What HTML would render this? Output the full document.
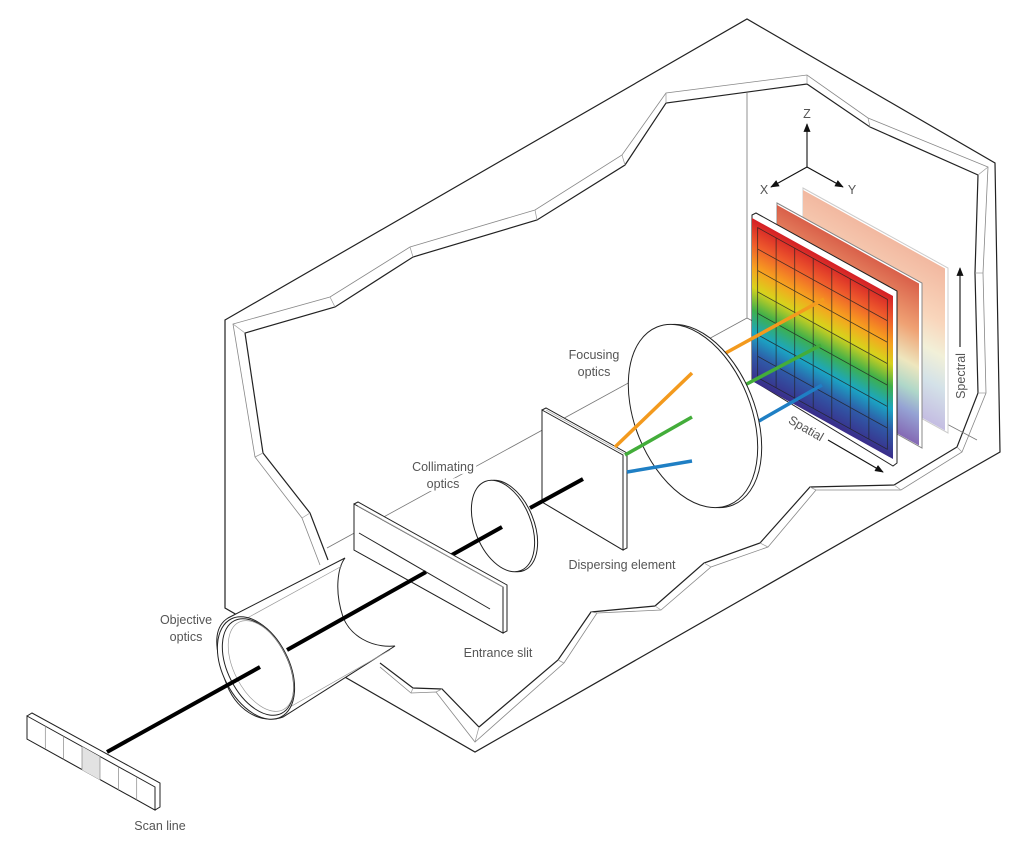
<!DOCTYPE html>
<html><head><meta charset="utf-8"><style>
html,body{margin:0;padding:0;background:#fff;}
svg{display:block;}
text{font-family:"Liberation Sans",sans-serif;font-size:12.5px;fill:#555;}
.lbl{stroke:#fff;stroke-width:6px;paint-order:stroke;stroke-linejoin:round;}
</style></head><body>
<svg width="1024" height="853" viewBox="0 0 1024 853" xmlns="http://www.w3.org/2000/svg">
<defs>
<linearGradient id="g1" x1="0" y1="0" x2="0" y2="1">
<stop offset="0" stop-color="#d41f26"/><stop offset="0.15" stop-color="#ee5a2c"/><stop offset="0.3" stop-color="#f7a21f"/>
<stop offset="0.42" stop-color="#d8d21c"/><stop offset="0.56" stop-color="#3fb04a"/><stop offset="0.7" stop-color="#1aa6c4"/>
<stop offset="0.83" stop-color="#2f5ba8"/><stop offset="1" stop-color="#3a2d8a"/></linearGradient>
<linearGradient id="g2" x1="0" y1="0" x2="0" y2="1">
<stop offset="0" stop-color="#d6523a"/><stop offset="0.3" stop-color="#ee9a68"/><stop offset="0.52" stop-color="#ece4b8"/>
<stop offset="0.68" stop-color="#a8d4c4"/><stop offset="0.82" stop-color="#8c9ad0"/><stop offset="1" stop-color="#7a5cae"/></linearGradient>
<linearGradient id="g3" x1="0" y1="0" x2="0" y2="1">
<stop offset="0" stop-color="#f2b8a0"/><stop offset="0.35" stop-color="#f9d6bc"/><stop offset="0.55" stop-color="#f2f0d8"/>
<stop offset="0.75" stop-color="#d4e2e8"/><stop offset="1" stop-color="#c4bde2"/></linearGradient>
<marker id="ah" viewBox="0 0 10 10" refX="9" refY="5" markerWidth="8" markerHeight="8" orient="auto"><path d="M0,1 L10,5 L0,9 Z" fill="#111"/></marker>
</defs>

<!-- outer housing -->
<path d="M225,320 L747,19 L995,163 L1000,452 L475,752 L225,608 Z" fill="#fff" stroke="#222" stroke-width="1.2"/>
<!-- rim gray -->
<polyline fill="none" stroke="#888" stroke-width="0.8" points="320,565 302,518 255,457 233,324 330,297 410,247 535,210 622,155 666,93 807,75 868,118 988,167 983,273 986,393 962,452 901,490 816,490 768,547 711,567 661,610 597,613 564,663 475,742 436,692 411,693 380,667"/>
<polyline fill="none" stroke="#222" stroke-width="1.2" points="328,560 310,513 263,453 245,333 335,307 413,257 537,220 625,165 666,103 807,84 870,127 978,175 975,273 978,393 957,447 894,485 810,487 760,543 704,563 655,606 591,612 558,660 479,727 442,689 413,688 380,663"/>
<g stroke="#999" stroke-width="0.7">
<line x1="302" y1="518" x2="310" y2="513"/><line x1="255" y1="457" x2="263" y2="453"/><line x1="233" y1="324" x2="245" y2="333"/>
<line x1="330" y1="297" x2="335" y2="307"/><line x1="410" y1="247" x2="413" y2="257"/><line x1="535" y1="210" x2="537" y2="220"/>
<line x1="622" y1="155" x2="625" y2="165"/><line x1="666" y1="93" x2="666" y2="103"/><line x1="807" y1="75" x2="807" y2="84"/>
<line x1="868" y1="118" x2="870" y2="127"/><line x1="988" y1="167" x2="978" y2="175"/><line x1="983" y1="273" x2="975" y2="273"/>
<line x1="986" y1="393" x2="978" y2="393"/><line x1="962" y1="452" x2="957" y2="447"/><line x1="901" y1="490" x2="894" y2="485"/>
<line x1="816" y1="490" x2="810" y2="487"/><line x1="768" y1="547" x2="760" y2="543"/><line x1="711" y1="567" x2="704" y2="563"/>
<line x1="661" y1="610" x2="655" y2="606"/><line x1="597" y1="613" x2="591" y2="612"/><line x1="564" y1="663" x2="558" y2="660"/>
<line x1="475" y1="742" x2="479" y2="727"/><line x1="436" y1="692" x2="442" y2="689"/><line x1="411" y1="693" x2="413" y2="688"/>
</g>
<!-- back corner lines -->
<line x1="747" y1="93" x2="747" y2="318" stroke="#777" stroke-width="0.8"/>
<line x1="747" y1="318" x2="327" y2="548" stroke="#777" stroke-width="0.8"/>
<line x1="747" y1="318" x2="977" y2="440" stroke="#777" stroke-width="0.8"/>

<!-- axes -->
<g stroke="#111" stroke-width="1.1" fill="none">
<line x1="807" y1="167" x2="807" y2="124" marker-end="url(#ah)"/>
<line x1="807" y1="167" x2="771" y2="187" marker-end="url(#ah)"/>
<line x1="807" y1="167" x2="843" y2="187" marker-end="url(#ah)"/>
</g>
<text x="807" y="118" text-anchor="middle">Z</text>
<text x="764" y="194" text-anchor="middle">X</text>
<text x="852" y="194" text-anchor="middle">Y</text>

<!-- panels -->
<path d="M803,188 L948,268 L948,433 L803,353 Z" fill="#fff" stroke="#ccc" stroke-width="1"/>
<g transform="matrix(142,78.5,0,162,803,190)"><rect x="0" y="0" width="1" height="1" fill="url(#g3)"/></g>
<path d="M777,203 L922,283 L922,448 L777,367 Z" fill="#fff" stroke="#888" stroke-width="1"/>
<g transform="matrix(142,78.5,0,162,777,205)"><rect x="0" y="0" width="1" height="1" fill="url(#g2)" opacity="0.92"/></g>
<path d="M752,215 L756,213 L897,291 L897,463 L893,466 L752,380 Z" fill="#fff" stroke="#222" stroke-width="1"/>
<g transform="matrix(141,78,0,163,752,218)">
<rect x="0" y="0" width="1" height="1" fill="url(#g1)"/>
<g stroke="#222" stroke-width="0.8" vector-effect="non-scaling-stroke" fill="none" opacity="0.8">
<rect x="0.04" y="0.04" width="0.92" height="0.92" vector-effect="non-scaling-stroke"/>
<line x1="0.171" y1="0.04" x2="0.171" y2="0.96" vector-effect="non-scaling-stroke"/>
<line x1="0.303" y1="0.04" x2="0.303" y2="0.96" vector-effect="non-scaling-stroke"/>
<line x1="0.434" y1="0.04" x2="0.434" y2="0.96" vector-effect="non-scaling-stroke"/>
<line x1="0.566" y1="0.04" x2="0.566" y2="0.96" vector-effect="non-scaling-stroke"/>
<line x1="0.697" y1="0.04" x2="0.697" y2="0.96" vector-effect="non-scaling-stroke"/>
<line x1="0.829" y1="0.04" x2="0.829" y2="0.96" vector-effect="non-scaling-stroke"/>
<line x1="0.04" y1="0.171" x2="0.96" y2="0.171" vector-effect="non-scaling-stroke"/>
<line x1="0.04" y1="0.303" x2="0.96" y2="0.303" vector-effect="non-scaling-stroke"/>
<line x1="0.04" y1="0.434" x2="0.96" y2="0.434" vector-effect="non-scaling-stroke"/>
<line x1="0.04" y1="0.566" x2="0.96" y2="0.566" vector-effect="non-scaling-stroke"/>
<line x1="0.04" y1="0.697" x2="0.96" y2="0.697" vector-effect="non-scaling-stroke"/>
<line x1="0.04" y1="0.829" x2="0.96" y2="0.829" vector-effect="non-scaling-stroke"/>
</g></g>

<!-- spectral / spatial -->
<line x1="960" y1="347" x2="960" y2="268" stroke="#111" stroke-width="1.1" marker-end="url(#ah)"/>
<text transform="translate(965,376) rotate(-90)" text-anchor="middle">Spectral</text>
<text transform="translate(804,432) rotate(30)" text-anchor="middle">Spatial</text>
<line x1="828" y1="440" x2="883" y2="472" stroke="#111" stroke-width="1.1" marker-end="url(#ah)"/>

<!-- outer rays (over panel) -->
<g stroke-width="3.5" stroke-linecap="butt">
<line x1="722" y1="355" x2="824" y2="299" stroke="#f39a1e"/>
<line x1="743" y1="386" x2="821" y2="345" stroke="#43ad3a"/>
<line x1="759" y1="421" x2="822" y2="385" stroke="#1f7fc4"/>
</g>

<!-- focusing lens -->
<ellipse cx="697" cy="416" rx="58" ry="96" transform="rotate(-22 697 416)" fill="#fff" stroke="#222" stroke-width="1"/>
<ellipse cx="693" cy="416" rx="58" ry="96" transform="rotate(-22 693 416)" fill="#fff" stroke="#222" stroke-width="1"/>

<!-- dispersing element -->
<path d="M542,410 L546,408 L627,453 L627,548 L623,550 L542,502 Z" fill="#fff" stroke="#222" stroke-width="1"/>
<path d="M542,410 L623,455 L623,550 L542,502 Z" fill="#fff" stroke="#222" stroke-width="1"/>
<line x1="546" y1="410" x2="627" y2="455" stroke="#999" stroke-width="0.6"/>

<!-- inner rays -->
<g stroke-width="3.5">
<line x1="615" y1="447" x2="692" y2="373" stroke="#f39a1e"/>
<line x1="625" y1="455" x2="692" y2="417" stroke="#43ad3a"/>
<line x1="627" y1="472" x2="692" y2="461" stroke="#1f7fc4"/>
</g>
<line x1="530" y1="508" x2="583" y2="479" stroke="#000" stroke-width="4"/>

<!-- collimating lens -->
<ellipse cx="506" cy="526" rx="28" ry="48" transform="rotate(-22 506 526)" fill="#fff" stroke="#222" stroke-width="1"/>
<ellipse cx="503" cy="526" rx="28" ry="48" transform="rotate(-22 503 526)" fill="#fff" stroke="#222" stroke-width="1"/>
<line x1="450" y1="556" x2="502" y2="527" stroke="#000" stroke-width="4"/>

<!-- entrance slit -->
<path d="M354,504 L358,502 L507,585 L507,631 L503,633 L354,550 Z" fill="#fff" stroke="#222" stroke-width="1"/>
<path d="M354,504 L503,587 L503,633 L354,550 Z" fill="#fff" stroke="#222" stroke-width="1"/>
<line x1="358" y1="506" x2="503" y2="587" stroke="#aaa" stroke-width="0.6"/>
<line x1="359" y1="533" x2="490" y2="609" stroke="#222" stroke-width="1"/>

<!-- cylinder -->
<path d="M228,618 L345,558 C338,567 334,590 343,617 C350,635 370,648 395,646 L283,717 C260,725 235,710 225,680 C215,650 212,628 228,618 Z" fill="#fff" stroke="#222" stroke-width="1"/>
<line x1="240" y1="622" x2="342" y2="566" stroke="#999" stroke-width="0.7"/>
<line x1="290" y1="707" x2="390" y2="650" stroke="#999" stroke-width="0.7"/>
<line x1="287" y1="650" x2="426" y2="572" stroke="#000" stroke-width="4"/>
<ellipse cx="256" cy="668" rx="33" ry="55" transform="rotate(-27 256 668)" fill="#fff" stroke="#222" stroke-width="1"/>
<ellipse cx="258" cy="667" rx="30" ry="52" transform="rotate(-27 258 667)" fill="#fff" stroke="#222" stroke-width="1"/>
<ellipse cx="261" cy="666" rx="27" ry="49" transform="rotate(-27 261 666)" fill="none" stroke="#999" stroke-width="0.7"/>

<!-- scan line -->
<path d="M27,716 L32,713 L160,783 L160,807 L155,810 L27,739 Z" fill="#fff" stroke="#222" stroke-width="1"/>
<path d="M27,716 L155,787 L155,810 L27,739 Z" fill="#fff" stroke="#222" stroke-width="1"/>
<path d="M82,746.5 L100,756.6 L100,780 L82,770 Z" fill="#e2e2e2"/>
<g stroke="#888" stroke-width="0.7">
<line x1="45.3" y1="726" x2="45.3" y2="749"/><line x1="63.6" y1="736.3" x2="63.6" y2="759.5"/>
<line x1="82" y1="746.5" x2="82" y2="770"/><line x1="100" y1="756.6" x2="100" y2="780"/>
<line x1="118.4" y1="766.7" x2="118.4" y2="790"/><line x1="136.7" y1="776.9" x2="136.7" y2="800"/>
</g>
<line x1="107" y1="752" x2="260" y2="667" stroke="#000" stroke-width="4"/>

<!-- labels -->
<text class="lbl" x="594" y="359" text-anchor="middle">Focusing</text>
<text class="lbl" x="594" y="376" text-anchor="middle">optics</text>
<text class="lbl" x="443" y="471" text-anchor="middle">Collimating</text>
<text class="lbl" x="443" y="488" text-anchor="middle">optics</text>
<text x="622" y="569" text-anchor="middle">Dispersing element</text>
<text x="498" y="657" text-anchor="middle">Entrance slit</text>
<text x="186" y="624" text-anchor="middle">Objective</text>
<text x="186" y="641" text-anchor="middle">optics</text>
<text x="160" y="830" text-anchor="middle">Scan line</text>
</svg>
</body></html>
